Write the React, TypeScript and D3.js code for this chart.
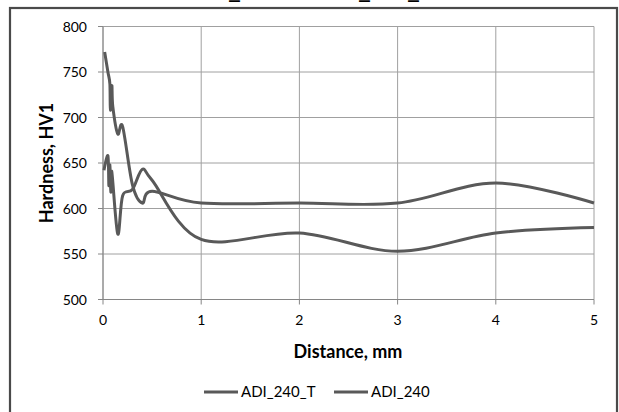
import React from "react";
import * as d3 from "d3";

const seriesNames = ["ADI_240_T", "ADI_240"];
const xA = [0.017, 0.05, 0.07, 0.075, 0.09, 0.1, 0.15, 0.2, 0.3, 0.4, 0.5, 1, 2, 3, 4, 5];
const yA = [772, 750, 737, 708, 735, 712, 682, 690, 626, 606, 619, 606, 606, 606, 628, 606];
const xB = [0.01, 0.05, 0.06, 0.07, 0.08, 0.09, 0.15, 0.2, 0.3, 0.4, 0.5, 1, 2, 3, 4, 5];
const yB = [642, 658, 625, 648, 618, 640, 572, 614, 621, 643, 631, 566, 573, 553, 573, 579];
const xTicks = [0, 1, 2, 3, 4, 5];
const yTicks = [500, 550, 600, 650, 700, 750, 800];
const titleParts = ["ADI", "_", "240 vs ADI", "_", "240", "_", "T"];
const xTitle = "Distance, mm";
const yTitle = "Hardness, HV1";

const FONT = "Lato, 'Open Sans', sans-serif";
const LINE = "#595959";

export default function App() {
  const x = d3.scaleLinear().domain([0, 5]).range([103, 594]);
  const y = d3.scaleLinear().domain([500, 800]).range([299.5, 26.5]);
  const line = d3
    .line<[number, number]>()
    .x((d) => x(d[0]))
    .y((d) => y(d[1]))
    .curve(d3.curveCardinal.tension(0));
  const dataA: [number, number][] = xA.map((v, i) => [v, yA[i]]);
  const dataB: [number, number][] = xB.map((v, i) => [v, yB[i]]);
  const [x0, x1] = x.range();
  const [y0, y1] = y.range();
  const titleX = [196, 228, 246, 358, 376, 407, 423];

  return (
    <svg
      width={619}
      height={412}
      style={{ position: "absolute", left: 0, top: 0, background: "#fff" }}
      fontFamily={FONT}
    >
      <rect x={0} y={0} width={619} height={412} fill="#fff" />
      <text y={-1} fontSize={22} fontWeight="bold" fill="#000">
        {titleParts.map((p, i) =>
          p === "_" ? (
            <tspan key={i} x={titleX[i]} textLength={13} lengthAdjust="spacingAndGlyphs">
              {p}
            </tspan>
          ) : (
            <tspan key={i} x={titleX[i]} fontSize={16}>
              {p}
            </tspan>
          )
        )}
      </text>
      <rect x={10} y={8} width={607} height={420} fill="none" stroke="#4a4a4a" strokeWidth={2.2} />
      {/* gridlines */}
      {yTicks.map((t) => (
        <line key={"gy" + t} x1={x0} x2={x1} y1={y(t)} y2={y(t)} stroke="#a0a0a0" strokeWidth={1} />
      ))}
      {xTicks.map((t) => (
        <line key={"gx" + t} x1={x(t)} x2={x(t)} y1={y1} y2={y0} stroke="#a0a0a0" strokeWidth={1} />
      ))}
      {/* axes */}
      <line x1={x0} x2={x0} y1={y1} y2={y0} stroke="#868686" strokeWidth={1} />
      <line x1={x0} x2={x1} y1={y0} y2={y0} stroke="#868686" strokeWidth={1} />
      {yTicks.map((t) => (
        <g key={"yt" + t}>
          <line x1={x0 - 5} x2={x0} y1={y(t)} y2={y(t)} stroke="#868686" />
          <text x={87} y={y(t) + 5} textAnchor="end" fontSize={14} fill="#000">
            {t}
          </text>
        </g>
      ))}
      {xTicks.map((t) => (
        <g key={"xt" + t}>
          <line x1={x(t)} x2={x(t)} y1={y0} y2={y0 + 5} stroke="#868686" />
          <text x={x(t)} y={325} textAnchor="middle" fontSize={14} fill="#000">
            {t}
          </text>
        </g>
      ))}
      {/* series */}
      <path d={line(dataA) || ""} fill="none" stroke={LINE} strokeWidth={3} strokeLinejoin="round" />
      <path d={line(dataB) || ""} fill="none" stroke={LINE} strokeWidth={3} strokeLinejoin="round" />
      {/* axis titles */}
      <text x={348} y={358} textAnchor="middle" fontSize={18} fontWeight="bold" fill="#000">
        {xTitle}
      </text>
      <text
        transform={`translate(53,163) rotate(-90)`}
        textAnchor="middle"
        fontSize={18}
        fontWeight="bold"
        fill="#000"
      >
        {yTitle}
      </text>
      {/* legend */}
      {seriesNames.map((n, i) => {
        const lx = i === 0 ? 204 : 334;
        return (
          <g key={n}>
            <line x1={lx} x2={lx + 34} y1={392} y2={392} stroke={LINE} strokeWidth={3} />
            <text x={lx + 37} y={397} fontSize={15} fill="#000">
              {n}
            </text>
          </g>
        );
      })}
    </svg>
  );
}
